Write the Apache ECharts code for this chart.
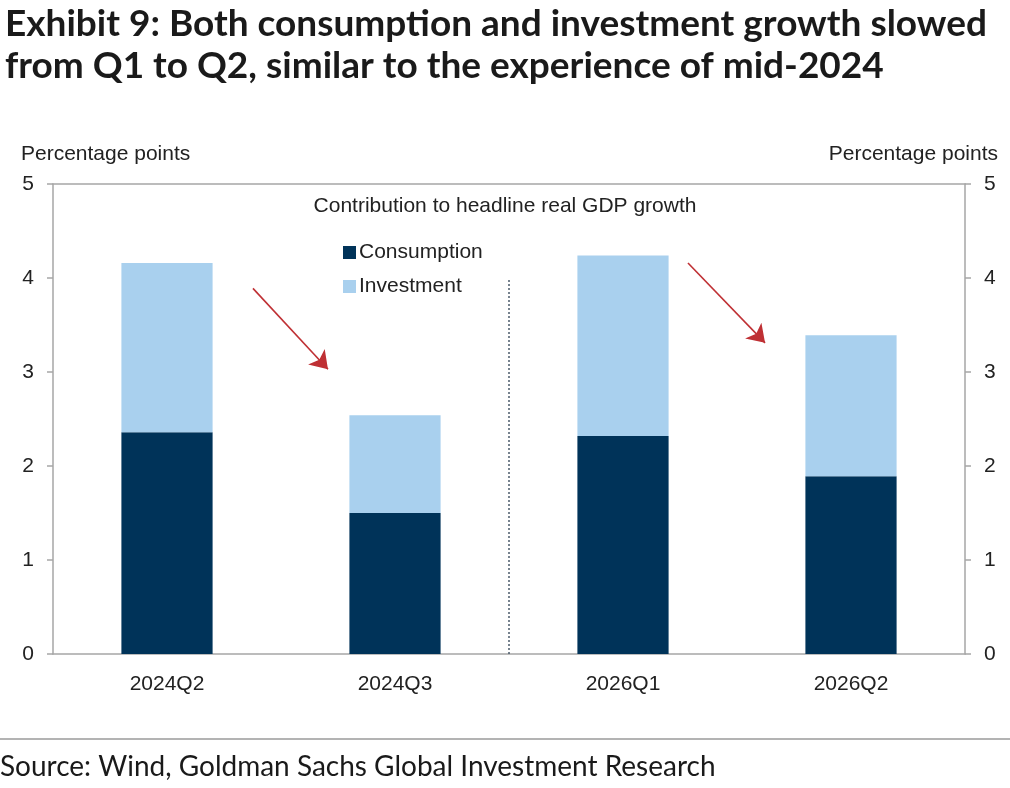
<!DOCTYPE html>
<html>
<head>
<meta charset="utf-8">
<script src="https://cdn.jsdelivr.net/npm/echarts@6/dist/echarts.min.js"></script>
<style>
html,body{margin:0;padding:0;background:#fff;}
#chart{width:1010px;height:788px;}
</style>
</head>
<body>
<div id="chart"></div>
<script>
var categories = ['2024Q2', '2024Q3', '2026Q1', '2026Q2'];
var consumption = [2.36, 1.50, 2.32, 1.89];
var investment = [1.80, 1.04, 1.92, 1.50];
var yTicks = [0, 1, 2, 3, 4, 5];
// divider between periods (x in category-slot units) and its height
var dividerX = 2;
var dividerTop = 3.98;
// annotation arrows [x, y] in data units (x: category slot units 0..4)
var arrow1 = [[0.877, 3.89], [1.206, 3.03]];
var arrow2 = [[2.785, 4.16], [3.123, 3.31]];

var titleText = 'Exhibit 9: Both consumption and investment growth slowed\nfrom Q1 to Q2, similar to the experience of mid-2024';
var sourceText = 'Source: Wind, Goldman Sachs Global Investment Research';
var innerTitle = 'Contribution to headline real GDP growth';
var unitLabel = 'Percentage points';

var axisColor = '#a6a6a6';
var textColor = '#222';
var labelFont = 'Liberation Sans, Arial, sans-serif';
var fs = 21;

var chart = echarts.init(document.getElementById('chart'), null, {renderer: 'canvas'});
chart.setOption({
  backgroundColor: '#fff',
  animation: false,
  title: {
    text: titleText,
    left: 0, top: -2,
    textStyle: {fontFamily: 'Lato', fontWeight: 700, fontSize: 37, lineHeight: 42, color: '#1a1a1a'}
  },
  legend: {
    orient: 'vertical',
    left: 338, top: 237,
    itemWidth: 13, itemHeight: 13, itemGap: 13,
    icon: 'rect',
    textStyle: {fontFamily: labelFont, fontSize: fs, color: textColor, padding: [0,0,0,-2]},
    data: ['Consumption', 'Investment']
  },
  grid: {left: 53, right: 45, top: 184, bottom: 134, containLabel: false},
  xAxis: [{
    type: 'category',
    data: categories,
    axisLine: {show: true, lineStyle: {color: axisColor, width: 1.5}},
    axisTick: {show: false},
    axisLabel: {fontFamily: labelFont, fontSize: fs, color: textColor, margin: 20}
  }, {
    type: 'value', min: 0, max: 4, position: 'top',
    axisLine: {show: true, onZero: false, lineStyle: {color: axisColor, width: 1.5}},
    axisTick: {show: false}, axisLabel: {show: false}, splitLine: {show: false}
  }],
  yAxis: [{
    type: 'value', min: yTicks[0], max: yTicks[yTicks.length-1], interval: 1, position: 'left',
    axisLine: {show: true, lineStyle: {color: axisColor, width: 1.5}},
    axisTick: {show: true, length: 6, lineStyle: {color: axisColor, width: 1.5}},
    axisLabel: {fontFamily: labelFont, fontSize: fs, color: textColor, margin: 19},
    splitLine: {show: false}
  }, {
    type: 'value', min: yTicks[0], max: yTicks[yTicks.length-1], interval: 1, position: 'right',
    axisLine: {show: true, lineStyle: {color: axisColor, width: 1.5}},
    axisTick: {show: true, length: 6, lineStyle: {color: axisColor, width: 1.5}},
    axisLabel: {fontFamily: labelFont, fontSize: fs, color: textColor, margin: 19},
    splitLine: {show: false}
  }],
  series: [{
    name: 'Consumption', type: 'bar', stack: 'gdp', data: consumption,
    barWidth: '40%', itemStyle: {color: '#003359'}
  }, {
    name: 'Investment', type: 'bar', stack: 'gdp', data: investment,
    barWidth: '40%', itemStyle: {color: '#a9d0ee'}
  }, {
    name: 'divider', type: 'line', xAxisIndex: 1, yAxisIndex: 0,
    data: [[dividerX, 0], [dividerX, dividerTop]],
    symbol: 'none', silent: true,
    lineStyle: {type: [2, 2], color: '#4a5a6a', width: 1.5}
  }, {
    name: 'arrows', type: 'lines', coordinateSystem: 'cartesian2d', xAxisIndex: 1, yAxisIndex: 0,
    symbol: ['none', 'arrow'], symbolSize: 17, silent: true,
    lineStyle: {color: '#bf3034', width: 1.6, opacity: 1, curveness: 0},
    data: [{coords: arrow1}, {coords: arrow2}]
  }],
  graphic: [
    {type: 'text', left: 21, top: 144, style: {text: unitLabel, font: '21px ' + labelFont, fill: textColor}},
    {type: 'text', right: 12, top: 144, style: {text: unitLabel, font: '21px ' + labelFont, fill: textColor}},
    {type: 'text', x: 505, y: 196, style: {text: innerTitle, font: '21px ' + labelFont, fill: textColor, textAlign: 'center'}},
    {type: 'line', shape: {x1: 0, y1: 739, x2: 1010, y2: 739}, style: {stroke: '#b3b3b3', lineWidth: 2}},
    {type: 'text', left: 0, top: 753, style: {text: sourceText, font: '400 28px Lato', fill: '#1a1a1a'}}
  ]
});
</script>
</body>
</html>
